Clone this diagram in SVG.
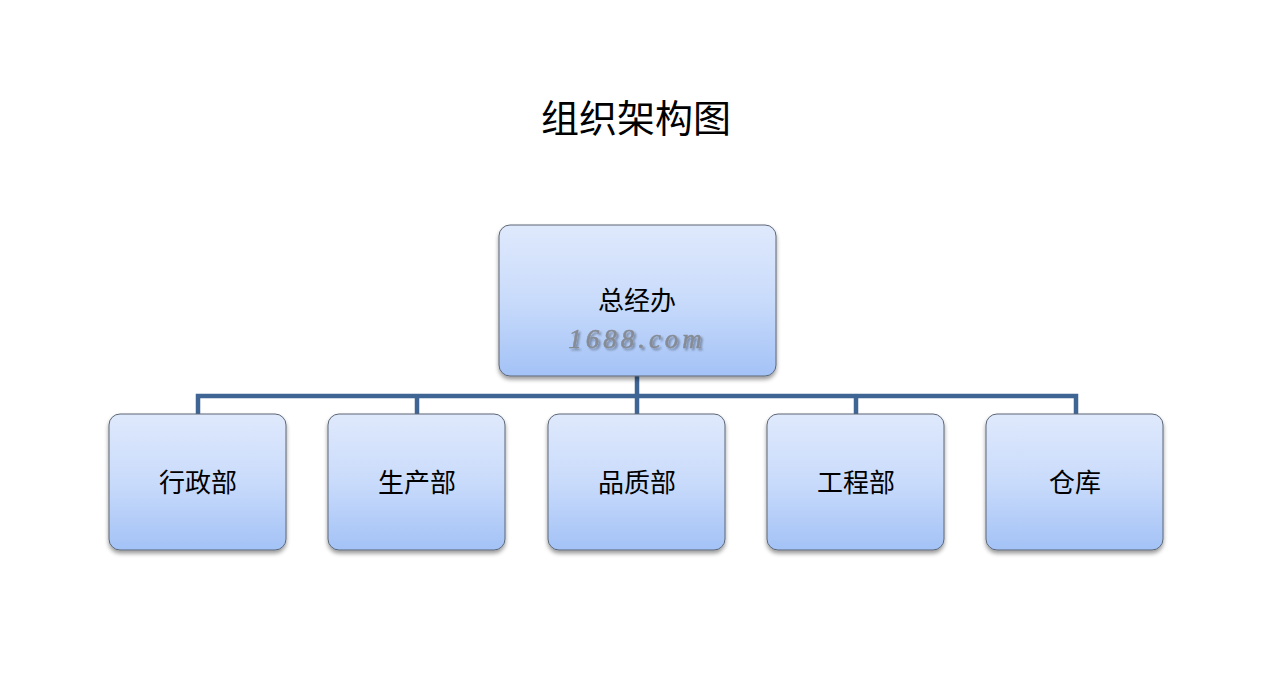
<svg xmlns="http://www.w3.org/2000/svg" width="1269" height="676" viewBox="0 0 1269 676">
<defs>
<linearGradient id="g" x1="0" y1="0" x2="0" y2="1">
<stop offset="0" stop-color="#dfe9fc"/>
<stop offset="0.5" stop-color="#c9dbfb"/>
<stop offset="1" stop-color="#a3c2f6"/>
</linearGradient>
<filter id="sh" x="-10%" y="-10%" width="120%" height="125%">
<feGaussianBlur in="SourceAlpha" stdDeviation="2"/>
<feOffset dx="0" dy="3"/>
<feComponentTransfer><feFuncA type="linear" slope="0.4"/></feComponentTransfer>
<feMerge><feMergeNode/><feMergeNode in="SourceGraphic"/></feMerge>
</filter>
<filter id="ts" x="-10%" y="-20%" width="120%" height="150%">
<feGaussianBlur in="SourceAlpha" stdDeviation="0.8"/>
<feOffset dx="1.5" dy="1.5"/>
<feComponentTransfer><feFuncA type="linear" slope="0.35"/></feComponentTransfer>
<feMerge><feMergeNode/><feMergeNode in="SourceGraphic"/></feMerge>
</filter>
</defs>
<style>
.box{fill:url(#g);stroke:#5c6776;stroke-width:1;filter:url(#sh)}
.lbl{font-family:"Noto Sans CJK SC","Noto Sans",sans-serif;font-size:26px;fill:#000;text-anchor:middle}
.title{font-family:"Noto Sans CJK SC","Noto Sans",sans-serif;font-size:38px;fill:#000;text-anchor:middle}
.wm{font-family:"Liberation Serif",serif;font-style:italic;font-size:27px;fill:#868b94;stroke:#868b94;stroke-width:0.5;letter-spacing:4px;text-anchor:middle;filter:url(#ts)}
.conn{fill:none;stroke:#3f6594;stroke-width:4.5}
</style>
<rect width="1269" height="676" fill="#ffffff"/>
<text class="title" x="636" y="132">组织架构图</text>
<g id="connectors">
<path class="conn" d="M637 376V396M198 414V396H1076V414M417 396V414M637 396V414M856 396V414"/>
</g>
<g id="n0"><rect class="box" x="499" y="225" width="277" height="151" rx="11"/><text class="lbl" x="637" y="310">总经办</text><text class="wm" x="637" y="348">1688.com</text></g>
<g id="n1"><rect class="box" x="109" y="414" width="177" height="136" rx="11"/><text class="lbl" x="198" y="492">行政部</text></g>
<g id="n2"><rect class="box" x="328" y="414" width="177" height="136" rx="11"/><text class="lbl" x="417" y="492">生产部</text></g>
<g id="n3"><rect class="box" x="548" y="414" width="177" height="136" rx="11"/><text class="lbl" x="637" y="492">品质部</text></g>
<g id="n4"><rect class="box" x="767" y="414" width="177" height="136" rx="11"/><text class="lbl" x="856" y="492">工程部</text></g>
<g id="n5"><rect class="box" x="986" y="414" width="177" height="136" rx="11"/><text class="lbl" x="1075" y="492">仓库</text></g>
</svg>
